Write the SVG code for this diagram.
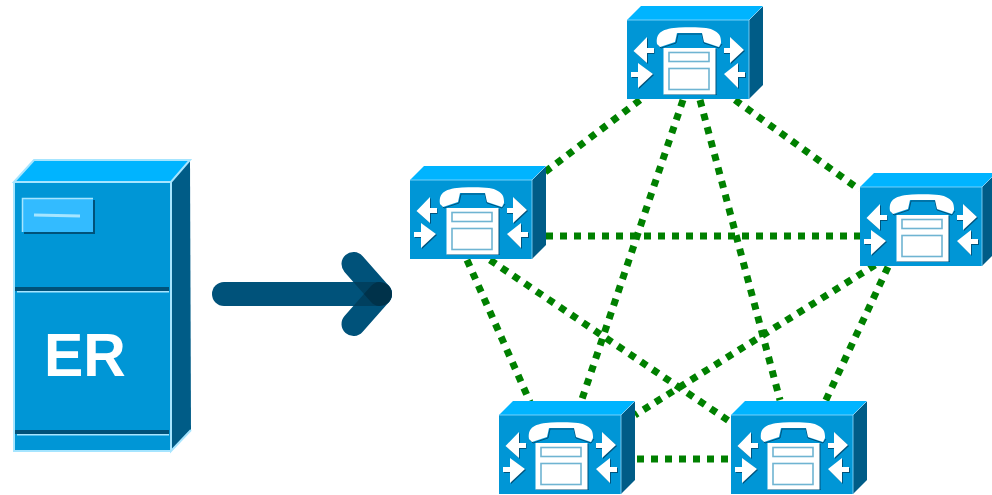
<svg xmlns="http://www.w3.org/2000/svg" xmlns:xlink="http://www.w3.org/1999/xlink" width="992" height="495" viewBox="0 0 992 495">
<style>
.top{fill:#00b4ff}.front{fill:#0096d6}.side{fill:#005c87}
.link{stroke:#008000;stroke-width:7;stroke-dasharray:7 7;fill:none}
.ar{stroke:#00527a;stroke-width:24;stroke-linecap:round;fill:none}
.hand{fill:#fff}
.dbox{fill:#fff}
.ibox{fill:#fff;stroke:#6fb4d2;stroke-width:1.600}
.wa{fill:#fff}
.sh{fill:#00537c}
</style>
<defs>
<g id="switch">
<polygon class="top" points="0,0 14,-14 136,-14 122,0"/>
<polygon class="side" points="122,0 136,-14 136,65 122,79"/>
<rect class="front" x="0" y="0" width="122" height="79"/>
<path d="M0,0H122L136,-14M122,0V79" fill="none" stroke="#8fdcff" stroke-width=".8"/>
<path d="M31,25L34,28L49,23L51,14H75L77,23L92,28L95,24" fill="none" stroke="#00537c" stroke-width="1"/>
<path class="hand" d="M30,24C29,18 31,14 34,12C38,9 45,8 52,7.500C62,7 72,7 79,8C86,9 91,12 93,16C94,19 94,21 94,23L92,27L77,22L75,13H50L48,22L33,27Z"/>
<rect class="sh" x="88" y="29" width="1.500" height="46"/>
<rect class="sh" x="37" y="74" width="52.500" height="1"/>
<rect class="dbox" x="36.500" y="28" width="52" height="46.500"/>
<rect class="ibox" x="42" y="32.500" width="40" height="9"/>
<rect class="ibox" x="42" y="48.500" width="40" height="21"/>
<polygon class="sh" points="21,18 21,29 27.500,29 27.500,34 21,34 21,44 7,31.500"/>
<polygon class="wa" points="20,17 20,28 27,28 27,33 20,33 20,43 6.500,31"/>
<polygon class="sh" points="104,18 104,29 97,29 97,34 104,34 104,44 118,31"/>
<polygon class="wa" points="103,17 103,28 97,28 97,33 103,33 103,43 117,30"/>
<polygon class="sh" points="12,44 12,53 5,53 5,58 12,58 12,69 27,55"/>
<polygon class="wa" points="11,43 11,52 4,52 4,57 11,57 11,68 26,54"/>
<polygon class="sh" points="112,44 112,53 119,53 119,58 112,58 112,69 98,55"/>
<polygon class="wa" points="111,43 111,52 118,52 118,57 111,57 111,68 97,54"/>
</g>
<mask id="mUp" maskUnits="userSpaceOnUse" x="200" y="240" width="200" height="110"><line x1="353.500" y1="264" x2="380" y2="294" stroke="#fff" stroke-width="24" stroke-linecap="round"/></mask>
<mask id="mDn" maskUnits="userSpaceOnUse" x="200" y="240" width="200" height="110"><line x1="353.500" y1="324" x2="380" y2="294" stroke="#fff" stroke-width="24" stroke-linecap="round"/></mask>
</defs>
<rect width="992" height="495" fill="#fff"/>
<g id="connectors">
<line class="link" x1="640" y1="100" x2="545" y2="172"/>
<line class="link" x1="735" y1="100" x2="860" y2="190"/>
<line class="link" x1="683" y1="100" x2="580" y2="405"/>
<line class="link" x1="700" y1="100" x2="780" y2="400"/>
<line class="link" x1="546" y1="236" x2="860" y2="236"/>
<line class="link" x1="467" y1="260" x2="530" y2="402"/>
<line class="link" x1="490" y1="260" x2="735" y2="425"/>
<line class="link" x1="875" y1="265" x2="635" y2="415"/>
<line class="link" x1="888" y1="267" x2="825" y2="402"/>
<line class="link" x1="637" y1="459" x2="731" y2="459"/>
</g>
<g id="er-node">
<polygon class="top" points="14,182 34,160 190,160 171,182"/>
<polygon class="side" points="171,182 190,160 191,430 171,451"/>
<rect class="front" x="14" y="182" width="157" height="269"/>
<path d="M14,182L34,160H190L171,182ZM171,182V451L191,430M14,182V451H171" fill="none" stroke="#a6e5ff" stroke-width="2"/>
<rect x="24" y="200" width="71" height="34" fill="#00527a"/>
<rect x="22" y="198" width="71" height="34" fill="#33bbff"/>
<path d="M22.500,232V198.500H93" fill="none" stroke="#a6e5ff" stroke-width="1.500"/>
<line x1="34" y1="215" x2="80" y2="216" stroke="#a6e5ff" stroke-width="3"/>
<rect x="15" y="287" width="154" height="4" fill="#00527a"/>
<rect x="17" y="291" width="152" height="1.500" fill="#a6e5ff"/>
<rect x="15" y="430" width="154" height="4" fill="#00527a"/>
<rect x="17" y="434" width="152" height="1.500" fill="#a6e5ff"/>
<text transform="translate(44,376) scale(.95,1)" font-family="'Liberation Sans',Arial,sans-serif" font-weight="700" font-size="62" fill="#fff">ER</text>
</g>
<g id="big-arrow">
<line class="ar" x1="224" y1="294" x2="380" y2="294"/>
<line class="ar" x1="353.500" y1="264" x2="380" y2="294"/>
<line class="ar" x1="353.500" y1="324" x2="380" y2="294"/>
<g mask="url(#mUp)"><line x1="224" y1="294" x2="380" y2="294" stroke="#000" stroke-opacity=".22" stroke-width="24" stroke-linecap="round"/></g>
<g mask="url(#mDn)"><line x1="224" y1="294" x2="380" y2="294" stroke="#000" stroke-opacity=".22" stroke-width="24" stroke-linecap="round"/></g>
</g>
<g id="node-top"><use xlink:href="#switch" href="#switch" x="627" y="20"/></g>
<g id="node-left"><use xlink:href="#switch" href="#switch" x="410" y="180"/></g>
<g id="node-right"><use xlink:href="#switch" href="#switch" x="860" y="187"/></g>
<g id="node-bottom-left"><use xlink:href="#switch" href="#switch" x="499" y="415"/></g>
<g id="node-bottom-right"><use xlink:href="#switch" href="#switch" x="731" y="415"/></g>
</svg>
